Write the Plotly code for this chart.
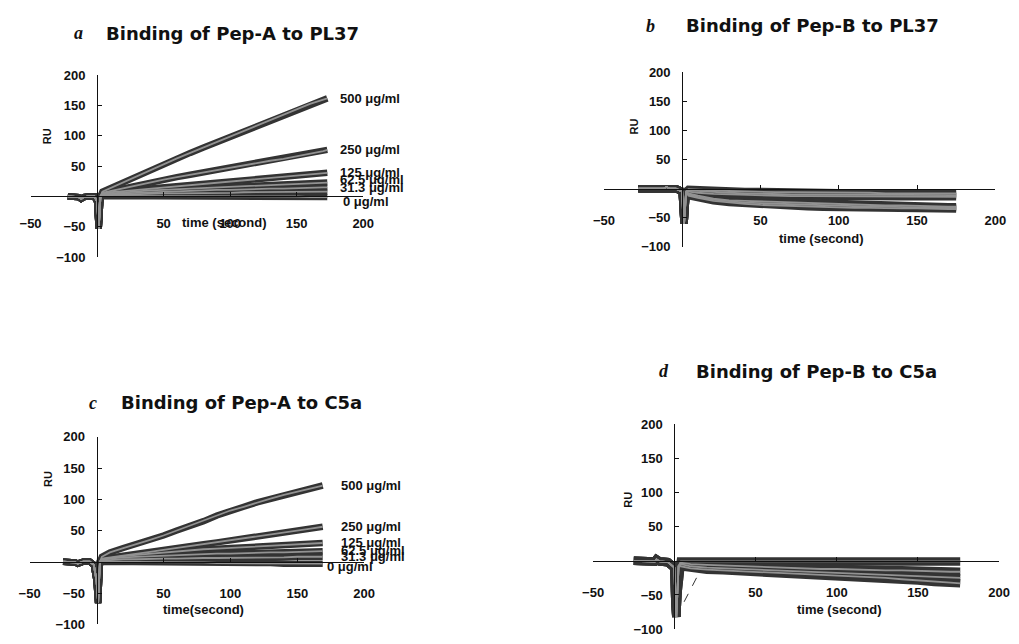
import plotly.graph_objects as go

W, H = 1019, 644

# ---------------- data ----------------
# a: Binding of Pep-A to PL37
t_pre_a = [-22, -18, -14, -12, -10, -6, -2, 0, 0.6, 1.2, 1.8, 2.5]
v_pre_a = [0, 0, -1, -4, -1, 0, 0, -8, -40, -53, -30, 0]
t_ramp_a = [4, 10, 20, 30, 40, 50, 60, 70, 80, 90, 100, 110, 120, 130, 140, 150, 160, 170, 173]
a_500 = [8, 14, 23, 33, 44, 54, 63, 72, 81, 90, 99, 108, 117, 126, 135, 144, 153, 160, 162]
a_250 = [6, 9, 14, 18, 23, 28, 32, 36, 40, 44, 47, 51, 55, 59, 62, 66, 70, 75, 77]
a_125 = [5, 7, 9, 11, 13, 15, 17, 19, 21, 23, 25, 27, 29, 31, 33, 35, 37, 39, 39]
a_62 = [4, 5, 7, 9, 10, 11, 12, 13, 14, 15, 16, 17, 18, 19, 20, 21, 22, 23, 23]
a_31 = [3, 4, 5, 6, 7, 8, 9, 9, 10, 11, 11, 12, 12, 13, 13, 14, 14, 15, 15]
a_15 = [2, 3, 3, 4, 4, 5, 5, 5, 6, 6, 6, 7, 7, 7, 7, 8, 8, 8, 8]
a_0 = [1, 1, 1, 1, 0, 0, 0, 0, 0, 0, 0, 0, 0, 0, 0, 0, -1, -1, -1]
labels_a = ["500 μg/ml", "250 μg/ml", "125 μg/ml", "62.5 μg/ml", "31.3 μg/ml", "", "0 μg/ml"]

# b: Binding of Pep-B to PL37
t_pre_b = [-28, -20, -12, -10, -8, -4, 0, 0.6, 1.2, 1.8, 2.5]
v_pre_b = [0, 0, 0, 3, 0, 0, -5, -45, -60, -35, -5]
t_ramp_b = [4, 10, 20, 30, 40, 50, 60, 70, 80, 90, 100, 110, 120, 130, 140, 150, 160, 170, 175]
b_1 = [-1, -2, -3, -4, -5, -5, -6, -6, -6, -7, -7, -7, -7, -8, -8, -8, -8, -8, -8]
b_2 = [-3, -4, -6, -7, -8, -9, -9, -10, -10, -10, -10, -11, -11, -11, -11, -11, -11, -11, -11]
b_3 = [-5, -7, -9, -10, -11, -12, -12, -13, -13, -13, -13, -14, -14, -14, -14, -14, -14, -14, -14]
b_4 = [-8, -12, -17, -20, -21, -22, -23, -24, -25, -26, -27, -27, -28, -29, -29, -30, -30, -31, -31]
b_5 = [-10, -14, -19, -22, -24, -25, -26, -27, -28, -29, -30, -30, -31, -31, -32, -32, -33, -33, -33]
b_6 = [-12, -16, -21, -24, -26, -28, -29, -30, -31, -32, -32, -33, -33, -34, -34, -34, -35, -35, -35]

# c: Binding of Pep-A to C5a
t_pre_c = [-25, -20, -16, -14, -10, -5, -2, 0, 0.6, 1.2, 1.8, 2.6]
v_pre_c = [0, 0, -1, -3, 0, 0, -5, -30, -55, -66, -35, 0]
t_ramp_c = [4, 10, 20, 30, 40, 50, 60, 70, 80, 90, 100, 110, 120, 130, 140, 150, 160, 169]
c_500 = [8, 15, 22, 28, 35, 42, 50, 57, 65, 74, 82, 88, 95, 101, 107, 112, 117, 122]
c_250 = [5, 7, 10, 13, 16, 19, 22, 25, 28, 31, 34, 37, 41, 44, 47, 50, 53, 56]
c_125 = [4, 6, 9, 11, 13, 15, 17, 18, 20, 21, 22, 23, 24, 25, 26, 27, 29, 30]
c_62 = [3, 5, 7, 8, 9, 10, 11, 12, 12, 13, 13, 14, 14, 15, 15, 16, 16, 17]
c_31 = [2, 3, 4, 4, 5, 5, 5, 6, 6, 6, 6, 7, 7, 7, 7, 8, 8, 8]
c_0 = [0, 0, 0, 0, -1, -1, -1, -1, -1, -2, -2, -2, -2, -2, -3, -3, -3, -3]
labels_c = ["500 μg/ml", "250 μg/ml", "125 μg/ml", "62.5 μg/ml", "31.3 μg/ml", "0 μg/ml"]

# d: Binding of Pep-B to C5a
t_pre_d = [-25, -18, -12, -11, -9, -4, 0, 0.6, 1.2, 1.8, 2.6]
v_pre_d = [0, -1, -1, 2, -1, -2, -10, -60, -82, -50, -8]
t_ramp_d = [4, 10, 20, 30, 40, 50, 60, 70, 80, 90, 100, 110, 120, 130, 140, 150, 160, 170, 176]
d_1 = [-1, -1, -1, 0, -1, -1, 0, -1, -1, 0, -1, -1, 0, -1, -1, -1, -1, -1, -1]
d_2 = [-3, -5, -6, -7, -8, -9, -10, -11, -11, -12, -12, -13, -13, -14, -14, -15, -15, -16, -16]
d_3 = [-5, -8, -10, -11, -12, -13, -14, -15, -16, -17, -18, -19, -20, -21, -22, -23, -24, -25, -25]
d_4 = [-8, -11, -13, -14, -15, -16, -17, -18, -19, -20, -21, -22, -24, -25, -27, -29, -31, -32, -33]
d_stray_t = [6, 14.5]
d_stray_v = [-60, -21]

x_ticks = [-50, 50, 100, 150, 200]
y_ticks = [-100, -50, 50, 100, 150, 200]
x_range = [-50, 200]
y_range = [-100, 200]

titles = [("a", "Binding of Pep-A to PL37"), ("b", "Binding of Pep-B to PL37"),
          ("c", "Binding of Pep-A to C5a"), ("d", "Binding of Pep-B to C5a")]
x_titles = ["time (second)", "time (second)", "time(second)", "time (second)"]

# ---------------- layout geometry (pixels) ----------------
panels = [(20, 360, 70, 256), (606, 1006, 67, 245.5), (19, 361, 440, 632), (595, 1010, 427, 637)]
title_pos = [((69, 27), (226, 27)), ((654, 19), (819, 19)), ((84, 405), (236, 405)), ((667, 373), (823, 373))]
ru_pos = [(37, 132), (637, 122), (38, 483), (631, 504)]
xt_pos = [(218, 221), (828, 237), (197, 617), (847, 617)]
x_standoff = [15, 20, 20, 20]
outer_w = [6.5, 7.5, 6.5, 8.5]
lab_shift_a = [(0, 0), (0, 0), (0, 0), (0, 3), (0, 0), (0, 0), (3, -4)]
lab_shift_c = [(0, 0), (0, 0), (0, 1), (0, 1), (0, 0), (-14, -3)]

OUTER = "#333333"
INNER = "#929292"

fig = go.Figure()

panel_series = [
    (t_pre_a, v_pre_a, t_ramp_a, [a_500, a_250, a_125, a_62, a_31, a_15, a_0]),
    (t_pre_b, v_pre_b, t_ramp_b, [b_1, b_2, b_3, b_4, b_5, b_6]),
    (t_pre_c, v_pre_c, t_ramp_c, [c_500, c_250, c_125, c_62, c_31, c_0]),
    (t_pre_d, v_pre_d, t_ramp_d, [d_1, d_2, d_3, d_4]),
]


def px(x):
    return x / W


def py(y):
    return 1 - y / H


annotations = []
axfont = dict(family="Liberation Sans, Arial, sans-serif", size=13, color="#111", weight="bold")
for i, (tp, vp, tr, series) in enumerate(panel_series):
    n = "" if i == 0 else str(i + 1)
    xa, ya = "x" + n, "y" + n
    for width, color in ((outer_w[i], OUTER), (1.8, INNER)):
        for s in series:
            fig.add_trace(go.Scatter(x=tp + tr, y=vp + s, mode="lines", xaxis=xa, yaxis=ya,
                                     line=dict(color=color, width=width), hoverinfo="skip",
                                     showlegend=False))
    x0, x1, y0, y1 = panels[i]
    xd = [px(x0), px(x1)]
    yd = [py(y1), py(y0)]
    xpos = xd[0] + (0 - x_range[0]) / (x_range[1] - x_range[0]) * (xd[1] - xd[0])
    ypos = yd[0] + (0 - y_range[0]) / (y_range[1] - y_range[0]) * (yd[1] - yd[0])
    fig.update_layout(**{
        "xaxis" + n: dict(domain=xd, range=x_range, anchor="free", position=ypos,
                          tickvals=x_ticks, ticks="inside", ticklen=4, tickcolor="#111",
                          showline=True, linecolor="#111", linewidth=1, showgrid=False,
                          zeroline=False, tickfont=axfont, ticklabelstandoff=x_standoff[i]),
        "yaxis" + n: dict(domain=yd, range=y_range, anchor="free", position=xpos,
                          tickvals=y_ticks, ticks="inside", ticklen=4, tickcolor="#111",
                          showline=True, linecolor="#111", linewidth=1, showgrid=False,
                          zeroline=False, tickfont=axfont, ticklabelstandoff=9),
    })
    (lx, ly), (tx, ty) = title_pos[i]
    letter, ttl = titles[i]
    annotations.append(dict(text="<b><i>%s</i></b>" % letter, x=px(lx), y=py(ly), xref="paper", yref="paper",
                            showarrow=False, xanchor="center", yanchor="middle",
                            font=dict(family="Liberation Serif, serif", size=18, color="#111")))
    annotations.append(dict(text="<b>%s</b>" % ttl, x=px(tx), y=py(ty), xref="paper", yref="paper",
                            showarrow=False, xanchor="center", yanchor="middle",
                            font=dict(family="DejaVu Sans, sans-serif", size=18, color="#111")))
    rx, ry = ru_pos[i]
    annotations.append(dict(text="<b>RU</b>", x=px(rx), y=py(ry), xref="paper", yref="paper",
                            showarrow=False, textangle=-90, xanchor="center", yanchor="middle",
                            font=dict(family="Liberation Sans, Arial, sans-serif", size=11, color="#111")))
    qx, qy = xt_pos[i]
    annotations.append(dict(text="<b>%s</b>" % x_titles[i], x=px(qx), y=py(qy), xref="paper", yref="paper",
                            showarrow=False, xanchor="center", yanchor="middle",
                            font=dict(family="Liberation Sans, Arial, sans-serif", size=13, color="#111")))

# stray thin stroke in panel d
fig.add_trace(go.Scatter(x=d_stray_t, y=d_stray_v, mode="lines", xaxis="x4", yaxis="y4",
                         line=dict(color="#333", width=1, dash="dash"), hoverinfo="skip", showlegend=False))

# concentration labels (a and c)
labfont = dict(family="Liberation Sans, Arial, sans-serif", size=13, color="#111", weight="bold")
for series, labels, shifts, xa, ya in (([a_500, a_250, a_125, a_62, a_31, a_15, a_0], labels_a, lab_shift_a, "x", "y"),
                                       ([c_500, c_250, c_125, c_62, c_31, c_0], labels_c, lab_shift_c, "x3", "y3")):
    for s, lab, (sx, sy) in zip(series, labels, shifts):
        if lab:
            annotations.append(dict(text=lab, x=181, y=s[-1], xref=xa, yref=ya, showarrow=False,
                                    xanchor="left", yanchor="middle", xshift=sx, yshift=sy, font=labfont))

fig.update_layout(width=W, height=H, margin=dict(l=0, r=0, t=0, b=0), autosize=False,
                  paper_bgcolor="white", plot_bgcolor="white", annotations=annotations,
                  showlegend=False)

fig.write_html("out.html", config={"displayModeBar": False},
               post_script="document.body.style.margin='0';document.body.style.overflow='hidden';")
